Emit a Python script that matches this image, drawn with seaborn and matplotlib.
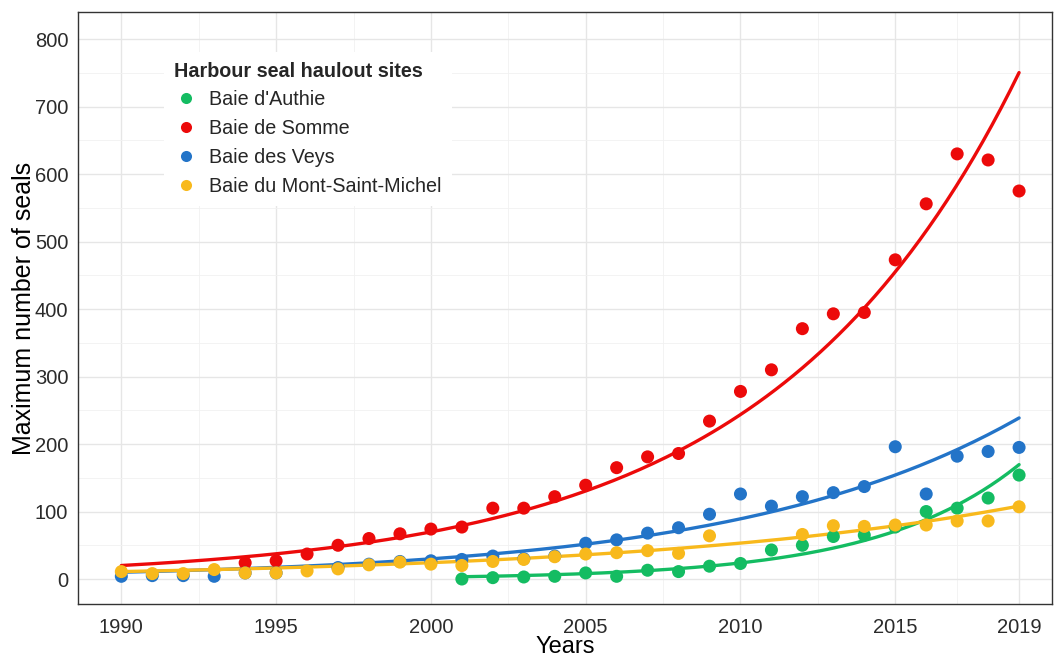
import numpy as np
import pandas as pd
import matplotlib
matplotlib.use("Agg")
import matplotlib.pyplot as plt
from matplotlib.ticker import FixedLocator
import seaborn as sns

# ---- data -------------------------------------------------------------
nan = np.nan
years = list(range(1990, 2020))
sites = ["Baie d'Authie", "Baie de Somme", "Baie des Veys", "Baie du Mont-Saint-Michel"]
colors = ["#14BC62", "#EC0A0A", "#2374C8", "#F8B91C"]

authie = [nan] * 11 + [0, 2, 3, 4, 9, 4, 13, 11, 19,
                       23, 43, 50, 63, 65, 77, 100, 105, 120, 154]
somme = [nan] * 4 + [24, 27, 37, 50, 60, 67, 74, 77,
                     105, 105, 122, 139, 165, 181, 186, 234,
                     278, 310, 371, 393, 395, 473, 556, 630, 621, 575]
veys = [4, 5, 5, 4, 9, 9, nan, 17, 22, 26,
        27, 29, 34, 30, 34, 53, 58, 68, 76, 96,
        126, 108, 122, 128, 137, 196, 126, 182, 189, 195]
msm = [11, 8, 8, 14, 9, 9, 12, 15, 21, 25,
       22, 20, 26, 29, 33, 37, 39, 42, 38, 64,
       nan, nan, 66, 79, 78, 80, 80, 86, 86, 107]

# exponential growth model per site: count = base * exp(rate * (year - start))
fit_start = [2001, 1990, 1990, 1990]
fit_base = [3.35, 20.0, 10.0, 11.0]
fit_rate = [0.218, 0.125, 0.1094, 0.0788]

x_ticks = [1990, 1995, 2000, 2005, 2010, 2015, 2019]
y_ticks = list(range(0, 801, 100))

# ---- tidy frames ------------------------------------------------------
obs = pd.DataFrame({
    "Years": years * 4,
    "count": authie + somme + veys + msm,
    "site": sum([[s] * len(years) for s in sites], []),
}).dropna()

fit_rows = []
for s, y0, b, r in zip(sites, fit_start, fit_base, fit_rate):
    t = np.linspace(y0, 2019, 200)
    fit_rows.append(pd.DataFrame({"Years": t, "count": b * np.exp(r * (t - y0)), "site": s}))
fit = pd.concat(fit_rows, ignore_index=True)

# ---- figure -----------------------------------------------------------
sns.set_theme(style="white")
plt.rcParams["font.family"] = ["Liberation Sans", "DejaVu Sans"]

fig = plt.figure(figsize=(10.54, 6.59), dpi=100)
ax = fig.add_axes([0.074, 0.0835, 0.924, 0.898])

palette = dict(zip(sites, colors))
sns.lineplot(data=fit, x="Years", y="count", hue="site", hue_order=sites,
             palette=palette, linewidth=2.4, legend=False, ax=ax, zorder=2)
sns.scatterplot(data=obs, x="Years", y="count", hue="site", hue_order=sites,
                palette=palette, s=88, linewidth=0, ax=ax, zorder=3)

ax.set_xlim(1988.6, 2020.06)
ax.set_ylim(-37, 840)
ax.xaxis.set_major_locator(FixedLocator(x_ticks))
ax.xaxis.set_minor_locator(FixedLocator([1992.5, 1997.5, 2002.5, 2007.5, 2012.5, 2017]))
ax.yaxis.set_major_locator(FixedLocator(y_ticks))
ax.yaxis.set_minor_locator(FixedLocator(list(range(50, 801, 100))))

ax.grid(which="major", color="#E6E6E6", linewidth=1.0, zorder=0)
ax.grid(which="minor", color="#F1F1F1", linewidth=0.6, zorder=0)
ax.set_axisbelow(True)

for sp in ax.spines.values():
    sp.set_color("#333333")
    sp.set_linewidth(1.0)

ax.tick_params(axis="both", which="major", length=4, width=0.9, color="#333333",
               labelsize=14.5, labelcolor="#2B2B2B", direction="out")
ax.tick_params(axis="both", which="minor", length=0)
ax.tick_params(axis="x", pad=6)
ax.tick_params(axis="y", pad=3)

ax.set_xlabel("Years", fontsize=17, color="black", labelpad=-0.5)
ax.set_ylabel("Maximum number of seals", fontsize=18, color="black", labelpad=-1)

handles, labels = ax.get_legend_handles_labels()
leg = ax.legend(handles, labels, title="Harbour seal haulout sites",
                loc="upper left", bbox_to_anchor=(0.078, 0.95),
                fontsize=14.2, title_fontproperties={"weight": "bold", "size": 14.2},
                frameon=True, facecolor="white", edgecolor="white", framealpha=1,
                fancybox=False, labelspacing=0.5, handletextpad=0.6,
                handlelength=1.2, borderpad=0.5, markerscale=0.85)
leg._legend_box.align = "left"
leg.get_frame().set_linewidth(0)

fig.savefig("out.png", dpi=100)
